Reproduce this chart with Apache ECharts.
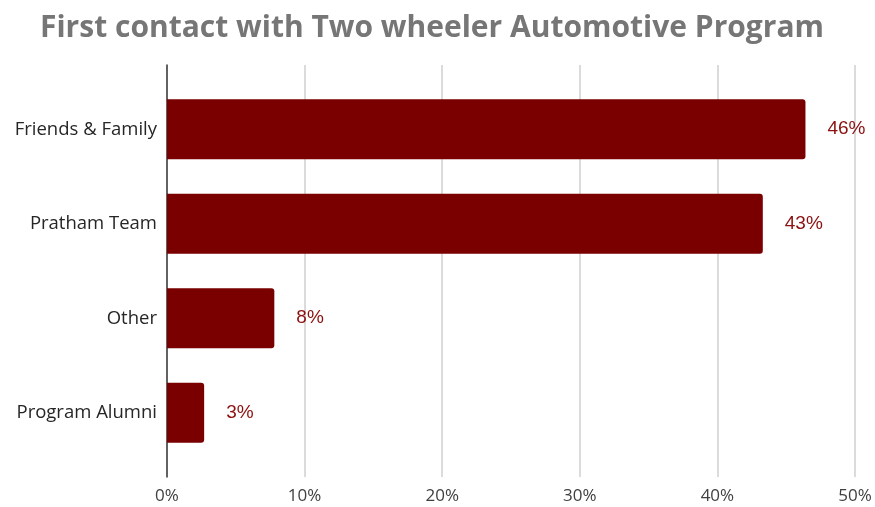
<!DOCTYPE html>
<html>
<head>
<meta charset="utf-8">
<script src="https://cdn.jsdelivr.net/npm/echarts@6/dist/echarts.min.js"></script>
<style>
  html, body { margin: 0; padding: 0; background: #ffffff; }
  #chart { width: 875px; height: 507px; }
</style>
</head>
<body>
<div id="chart"></div>
<script>
// Survey: how respondents first heard about the programme (share of respondents, %)
const categories = ['Friends & Family', 'Pratham Team', 'Other', 'Program Alumni'];
const shares = [46.4, 43.3, 7.8, 2.7];
const tickValues = [0, 10, 20, 30, 40, 50];

const barColor = '#7A0000';
const labelColor = '#8B1010';
const plotLeft = 167;
const plotRight = 20;

const chart = echarts.init(document.getElementById('chart'));
chart.setOption({
  animation: false,
  backgroundColor: '#ffffff',
  title: {
    text: 'First contact with Two wheeler Automotive Program',
    left: 35,
    top: 8,
    textStyle: {
      fontFamily: 'Open Sans',
      fontWeight: 'bold',
      fontSize: 30,
      color: '#767676'
    }
  },
  grid: [
    // bars
    { left: plotLeft, right: plotRight, top: 82, bottom: 47, containLabel: false },
    // frame: gridlines, value axis labels, vertical axis line
    { left: plotLeft, right: plotRight, top: 65, bottom: 30, containLabel: false }
  ],
  xAxis: [
    {
      gridIndex: 0, type: 'value', min: tickValues[0], max: tickValues[tickValues.length - 1],
      interval: 10, show: false
    },
    {
      gridIndex: 1, type: 'value', min: tickValues[0], max: tickValues[tickValues.length - 1],
      interval: 10,
      axisLine: { show: false },
      axisTick: { show: false },
      splitLine: { show: true, lineStyle: { color: '#CFCFCF', width: 1.5 } },
      axisLabel: {
        formatter: v => v + '%',
        margin: 11,
        fontFamily: 'Open Sans',
        fontSize: 17,
        color: '#404040'
      }
    }
  ],
  yAxis: [
    {
      gridIndex: 0, type: 'category', data: categories, inverse: true,
      axisLine: { show: false },
      axisTick: { show: false },
      splitLine: { show: false },
      axisLabel: {
        margin: 10,
        fontFamily: 'Open Sans',
        fontSize: 18.5,
        color: '#262626'
      }
    },
    {
      gridIndex: 1, type: 'category', data: categories, inverse: true,
      axisLine: { show: true, lineStyle: { color: '#3A3A3A', width: 1.5 } },
      axisTick: { show: false },
      axisLabel: { show: false },
      splitLine: { show: false }
    }
  ],
  series: [
    {
      type: 'bar',
      xAxisIndex: 0,
      yAxisIndex: 0,
      data: shares,
      barWidth: 60,
      itemStyle: { color: barColor, borderRadius: [0, 3, 3, 0] },
      label: {
        show: true,
        position: 'right',
        distance: 22,
        formatter: p => Math.round(p.value) + '%',
        fontFamily: 'Liberation Sans',
        fontSize: 19,
        color: labelColor
      },
      z: 3
    }
  ]
});
</script>
</body>
</html>
